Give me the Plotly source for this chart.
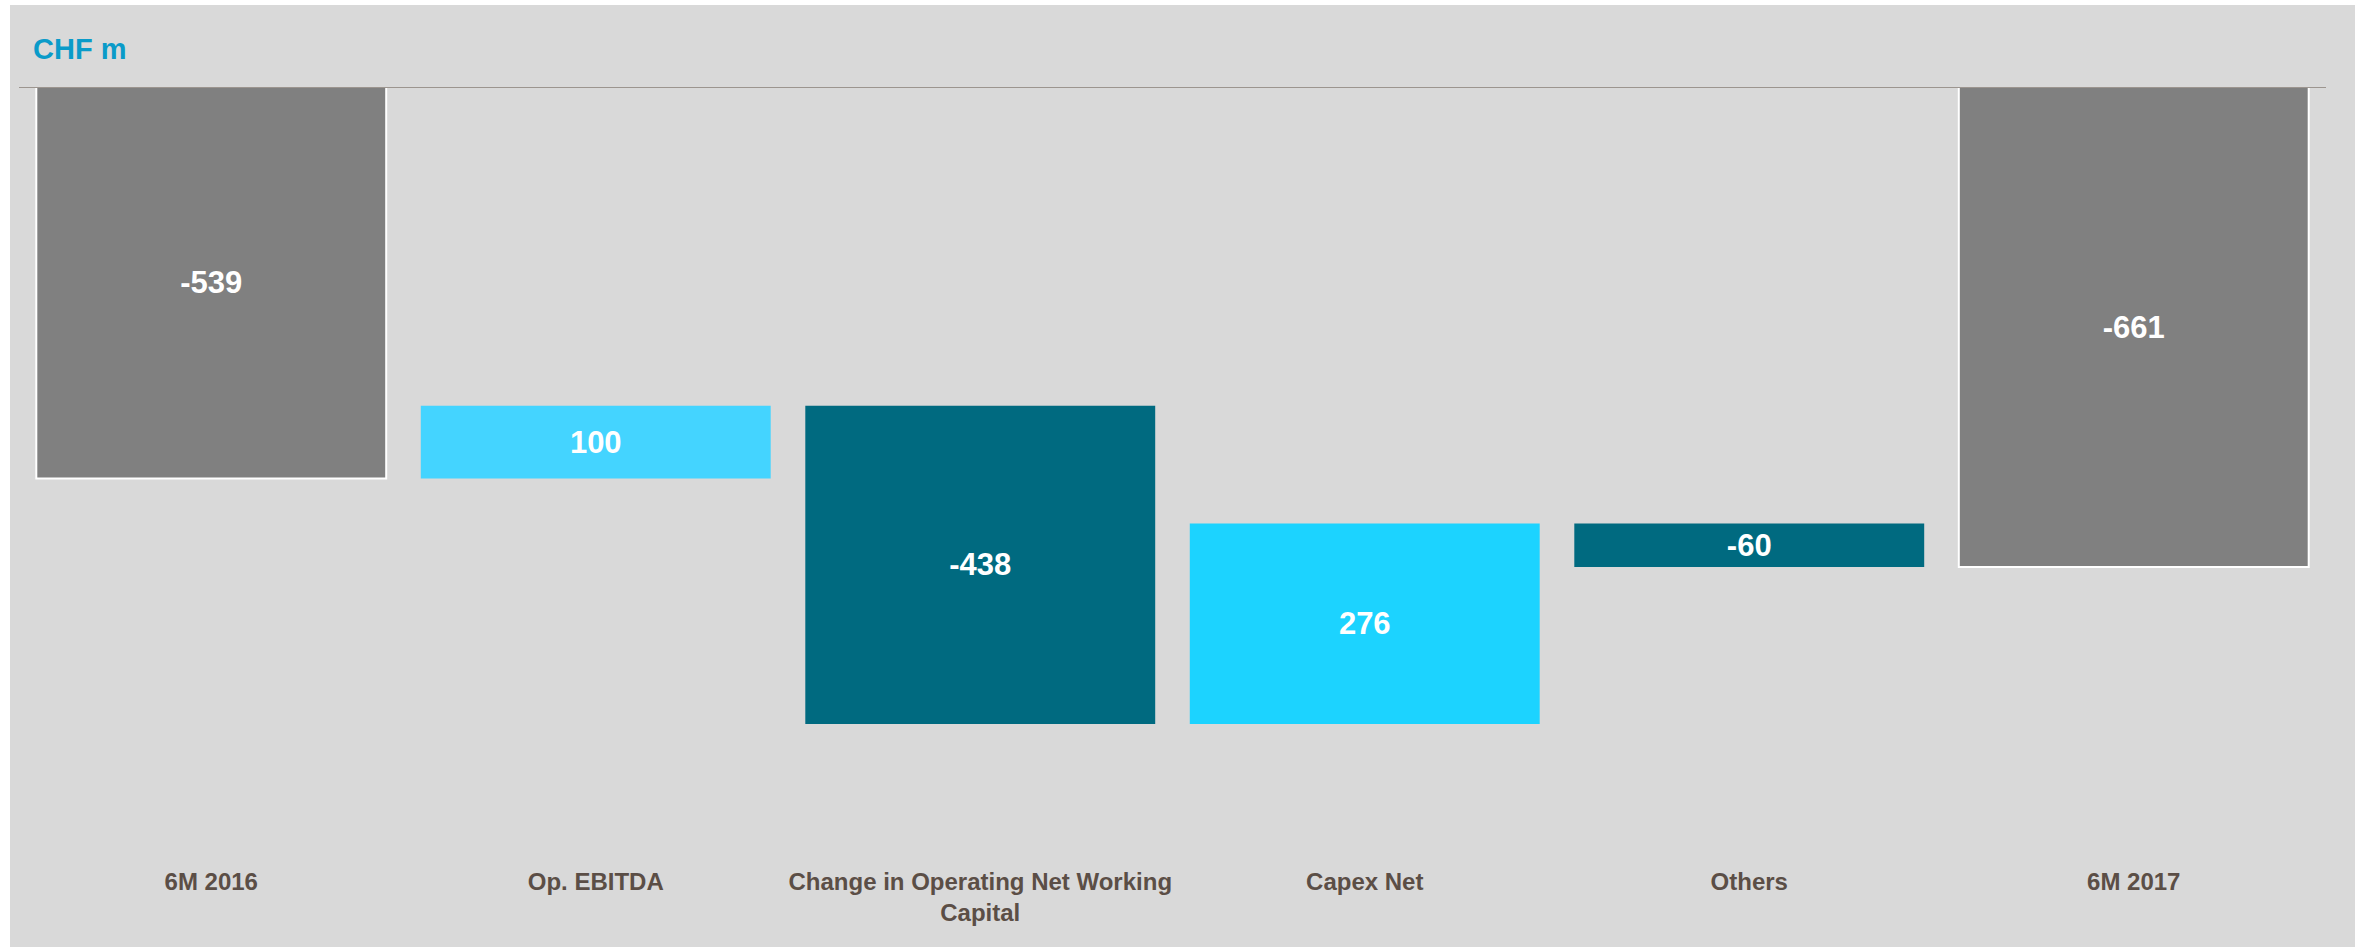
import plotly.graph_objects as go

# Net debt bridge, CHF m
categories = ["6M 2016", "Op. EBITDA", "Change in Operating Net Working<br>Capital",
              "Capex Net", "Others", "6M 2017"]
values = [-539, 100, -438, 276, -60, -661]
kinds = ["total", "delta", "delta", "delta", "delta", "total"]
bar_colors = ["#808080", "#44d4ff", "#006a80", "#1cd3ff", "#006a80", "#808080"]

# Page geometry (px)
W, H = 2362, 947
M_L, M_R, M_T, M_B = 19, 36, 87, 82
PANEL = dict(left=10, top=5, right=2355, bottom=947)
PX_PER_UNIT = 0.7263

plot_w = W - M_L - M_R
plot_h = H - M_T - M_B
y_min = -plot_h / PX_PER_UNIT

# Floating bar bases from the running level
bases, level = [], 0
for v, k in zip(values, kinds):
    if k == "total":
        bases.append(0)
        level = v
    else:
        bases.append(level)
        level += v

line_w = [2 if k == "total" else 0 for k in kinds]

FONT = "Arial, 'Liberation Sans', sans-serif"

fig = go.Figure(go.Bar(
    x=categories,
    y=values,
    base=bases,
    width=0.91,
    marker=dict(color=bar_colors, line=dict(color="white", width=line_w)),
    text=[str(v) for v in values],
    textposition="inside",
    insidetextanchor="middle",
    constraintext="none",
    textfont=dict(family=FONT, size=31, color="white", weight="bold"),
    hoverinfo="skip",
))

def px_x(px):
    return (px - M_L) / plot_w

def px_y(py):
    return (H - M_B - py) / plot_h

shapes = [
    # grey panel behind the chart
    dict(type="rect", xref="paper", yref="paper",
         x0=px_x(PANEL["left"]), x1=px_x(PANEL["right"]),
         y0=px_y(PANEL["bottom"]), y1=px_y(PANEL["top"]),
         fillcolor="#d9d9d9", line=dict(width=0), layer="below"),
    # baseline at zero along the top
    dict(type="line", xref="paper", yref="y", x0=0, x1=1, y0=0, y1=0,
         line=dict(color="#9c958f", width=2), layer="above"),
]

fig.update_layout(
    width=W, height=H,
    margin=dict(l=M_L, r=M_R, t=M_T, b=M_B, pad=0),
    paper_bgcolor="white",
    plot_bgcolor="rgba(0,0,0,0)",
    showlegend=False,
    shapes=shapes,
    title=dict(text="CHF m", xref="container", yref="container",
               x=33 / W, y=1 - 49 / H, xanchor="left", yanchor="middle",
               font=dict(family=FONT, size=29, color="#0a9bc9", weight="bold")),
    xaxis=dict(showgrid=False, zeroline=False, showline=False, ticks="",
               tickfont=dict(family=FONT, size=24, color="#5b4e46", weight="bold"),
               fixedrange=True),
    yaxis=dict(range=[y_min, 0], showgrid=False, zeroline=False, showline=False,
               showticklabels=False, ticks="", fixedrange=True),
)

fig.write_html("out.html")
